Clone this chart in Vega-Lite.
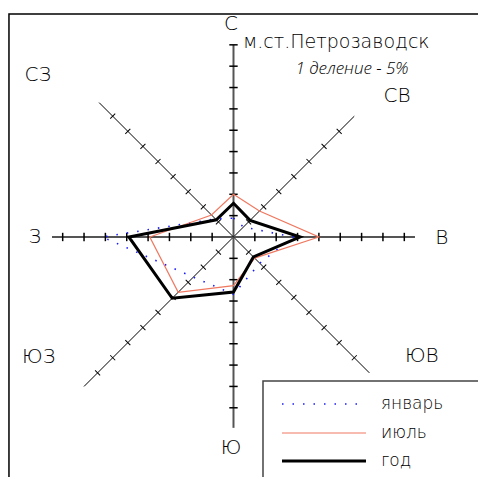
{
  "$schema": "https://vega.github.io/schema/vega-lite/v6.json",
  "width": 478,
  "height": 477,
  "autosize": "none",
  "padding": 0,
  "background": "white",
  "config": {"view": {"stroke": null}, "text": {"font": "DejaVu Sans", "fontWeight": 200, "color": "black"}},
  "datasets": {
    "rose": [
      {"series": "январь", "dir": "С", "i": 0, "value": 4.4},
      {"series": "январь", "dir": "СВ", "i": 1, "value": 3.3},
      {"series": "январь", "dir": "В", "i": 2, "value": 14.0},
      {"series": "январь", "dir": "ЮВ", "i": 3, "value": 8.7},
      {"series": "январь", "dir": "Ю", "i": 4, "value": 13.4},
      {"series": "январь", "dir": "ЮЗ", "i": 5, "value": 13.3},
      {"series": "январь", "dir": "З", "i": 6, "value": 30.7},
      {"series": "январь", "dir": "СЗ", "i": 7, "value": 6.0},
      {"series": "июль", "dir": "С", "i": 0, "value": 10.0},
      {"series": "июль", "dir": "СВ", "i": 1, "value": 8.6},
      {"series": "июль", "dir": "В", "i": 2, "value": 20.0},
      {"series": "июль", "dir": "ЮВ", "i": 3, "value": 7.0},
      {"series": "июль", "dir": "Ю", "i": 4, "value": 11.4},
      {"series": "июль", "dir": "ЮЗ", "i": 5, "value": 18.3},
      {"series": "июль", "dir": "З", "i": 6, "value": 19.6},
      {"series": "июль", "dir": "СЗ", "i": 7, "value": 7.3},
      {"series": "год", "dir": "С", "i": 0, "value": 7.9},
      {"series": "год", "dir": "СВ", "i": 1, "value": 5.5},
      {"series": "год", "dir": "В", "i": 2, "value": 15.6},
      {"series": "год", "dir": "ЮВ", "i": 3, "value": 6.6},
      {"series": "год", "dir": "Ю", "i": 4, "value": 12.9},
      {"series": "год", "dir": "ЮЗ", "i": 5, "value": 20.3},
      {"series": "год", "dir": "З", "i": 6, "value": 24.5},
      {"series": "год", "dir": "СЗ", "i": 7, "value": 5.7}
    ],
    "spokes": [
      {"dir": "С", "i": 0, "len": 45, "ticks": [1, 2, 3, 4, 5, 6, 7, 8, 9]},
      {"dir": "СВ", "i": 1, "len": 40, "ticks": [1, 2, 3, 4, 5, 6, 7]},
      {"dir": "В", "i": 2, "len": 42.5, "ticks": [1, 2, 3, 4, 5, 6, 7, 8]},
      {"dir": "ЮВ", "i": 3, "len": 45, "ticks": [1, 2, 3, 4, 5, 6, 7, 8]},
      {"dir": "Ю", "i": 4, "len": 44.7, "ticks": [1, 2, 3, 4, 5, 6, 7, 8]},
      {"dir": "ЮЗ", "i": 5, "len": 49.5, "ticks": [1, 2, 3, 4, 5, 6, 7, 8, 9]},
      {"dir": "З", "i": 6, "len": 42.5, "ticks": [1, 2, 3, 4, 5, 6, 7, 8]},
      {"dir": "СЗ", "i": 7, "len": 44.5, "ticks": [1, 2, 3, 4, 5, 6, 7, 8]}
    ]
  },
  "layer": [
    {
      "data": {"values": [{}]},
      "mark": {"type": "rect", "fill": null, "stroke": "black", "strokeWidth": 1.5},
      "encoding": {
        "x": {"datum": -52.58, "type": "quantitative", "scale": {"domain": [-54.68, 57.26], "nice": false, "zero": false}, "axis": null},
        "x2": {"datum": 70},
        "y": {"datum": 52.22, "type": "quantitative", "scale": {"domain": [-56.21, 55.5], "nice": false, "zero": false}, "axis": null},
        "y2": {"datum": -70}
      }
    },
    {
      "data": {"name": "spokes"},
      "transform": [
        {"calculate": "0", "as": "x0"},
        {"calculate": "0", "as": "y0"},
        {"calculate": "datum.len*sin(datum.i*PI/4)", "as": "x1"},
        {"calculate": "datum.len*cos(datum.i*PI/4)", "as": "y1"}
      ],
      "mark": {"type": "rule", "color": "black"},
      "encoding": {
        "x": {"field": "x0", "type": "quantitative"},
        "y": {"field": "y0", "type": "quantitative"},
        "x2": {"field": "x1"},
        "y2": {"field": "y1"},
        "strokeWidth": {"condition": {"test": "datum.i % 2 == 0", "value": 2}, "value": 1},
        "color": {"condition": {"test": "datum.i % 2 == 0", "value": "#555555"}, "value": "black"}
      }
    },
    {
      "data": {"name": "spokes"},
      "transform": [
        {"flatten": ["ticks"], "as": ["k"]},
        {"calculate": "datum.k*5*sin(datum.i*PI/4)", "as": "tx"},
        {"calculate": "datum.k*5*cos(datum.i*PI/4)", "as": "ty"},
        {"calculate": "datum.i*45", "as": "ang"}
      ],
      "mark": {"type": "point", "shape": "M-1,0L1,0", "filled": false, "stroke": "black", "opacity": 1},
      "encoding": {
        "x": {"field": "tx", "type": "quantitative"},
        "y": {"field": "ty", "type": "quantitative"},
        "angle": {"field": "ang", "type": "quantitative", "scale": null},
        "size": {"condition": {"test": "datum.i % 2 == 0", "value": 70}, "value": 50},
        "strokeWidth": {"condition": {"test": "datum.i % 2 == 0", "value": 1.5}, "value": 1}
      }
    },
    {
      "data": {"name": "rose"},
      "transform": [
        {"filter": "datum.series == 'январь'"},
        {"calculate": "datum.value*sin(datum.i*PI/4)", "as": "x"},
        {"calculate": "datum.value*cos(datum.i*PI/4)", "as": "y"}
      ],
      "mark": {"type": "line", "interpolate": "linear-closed", "stroke": "#1a1aff", "strokeWidth": 1.6, "strokeDash": [1.5, 9]},
      "encoding": {
        "x": {"field": "x", "type": "quantitative"},
        "y": {"field": "y", "type": "quantitative"},
        "order": {"field": "i", "type": "quantitative"}
      }
    },
    {
      "data": {"name": "rose"},
      "transform": [
        {"filter": "datum.series == 'июль'"},
        {"calculate": "datum.value*sin(datum.i*PI/4)", "as": "x"},
        {"calculate": "datum.value*cos(datum.i*PI/4)", "as": "y"}
      ],
      "mark": {"type": "line", "interpolate": "linear-closed", "stroke": "#f07860", "strokeWidth": 1.2},
      "encoding": {
        "x": {"field": "x", "type": "quantitative"},
        "y": {"field": "y", "type": "quantitative"},
        "order": {"field": "i", "type": "quantitative"}
      }
    },
    {
      "data": {"name": "rose"},
      "transform": [
        {"filter": "datum.series == 'год'"},
        {"calculate": "datum.value*sin(datum.i*PI/4)", "as": "x"},
        {"calculate": "datum.value*cos(datum.i*PI/4)", "as": "y"}
      ],
      "mark": {"type": "line", "interpolate": "linear-closed", "stroke": "black", "strokeWidth": 3},
      "encoding": {
        "x": {"field": "x", "type": "quantitative"},
        "y": {"field": "y", "type": "quantitative"},
        "order": {"field": "i", "type": "quantitative"}
      }
    },
    {
      "data": {"values": [{}]},
      "mark": {"type": "rect", "fill": null, "stroke": "#444444", "strokeWidth": 1.5},
      "encoding": {
        "x": {"datum": 6.91, "type": "quantitative"},
        "x2": {"datum": 70},
        "y": {"datum": -33.72, "type": "quantitative"},
        "y2": {"datum": -70}
      }
    },
    {"data": {"values": [{}]}, "mark": {"type": "rule", "stroke": "#1a1aff", "strokeWidth": 1.6, "strokeDash": [1.5, 9]}, "encoding": {"x": {"datum": 11.36, "type": "quantitative"}, "x2": {"datum": 31.03}, "y": {"datum": -39.11, "type": "quantitative"}}},
    {"data": {"values": [{}]}, "mark": {"type": "rule", "stroke": "#f07860", "strokeWidth": 1.2}, "encoding": {"x": {"datum": 11.36, "type": "quantitative"}, "x2": {"datum": 31.03}, "y": {"datum": -45.9, "type": "quantitative"}}},
    {"data": {"values": [{}]}, "mark": {"type": "rule", "stroke": "black", "strokeWidth": 3}, "encoding": {"x": {"datum": 11.36, "type": "quantitative"}, "x2": {"datum": 31.03}, "y": {"datum": -52.46, "type": "quantitative"}}},
    {"data": {"values": [{}]}, "mark": {"type": "text", "text": "январь", "fontSize": 17, "align": "left", "baseline": "middle"}, "encoding": {"x": {"datum": 34.54, "type": "quantitative"}, "y": {"datum": -39.11, "type": "quantitative"}}},
    {"data": {"values": [{}]}, "mark": {"type": "text", "text": "июль", "fontSize": 17, "align": "left", "baseline": "middle"}, "encoding": {"x": {"datum": 34.54, "type": "quantitative"}, "y": {"datum": -45.9, "type": "quantitative"}}},
    {"data": {"values": [{}]}, "mark": {"type": "text", "text": "год", "fontSize": 17, "align": "left", "baseline": "middle"}, "encoding": {"x": {"datum": 34.54, "type": "quantitative"}, "y": {"datum": -52.46, "type": "quantitative"}}},
    {"data": {"values": [{}]}, "mark": {"type": "text", "text": "С", "fontSize": 20, "align": "center", "baseline": "middle"}, "encoding": {"x": {"datum": -0.59, "type": "quantitative"}, "y": {"datum": 49.9, "type": "quantitative"}}},
    {"data": {"values": [{}]}, "mark": {"type": "text", "text": "СВ", "fontSize": 20, "align": "center", "baseline": "middle"}, "encoding": {"x": {"datum": 38.3, "type": "quantitative"}, "y": {"datum": 33.0, "type": "quantitative"}}},
    {"data": {"values": [{}]}, "mark": {"type": "text", "text": "В", "fontSize": 20, "align": "center", "baseline": "middle"}, "encoding": {"x": {"datum": 48.8, "type": "quantitative"}, "y": {"datum": -0.23, "type": "quantitative"}}},
    {"data": {"values": [{}]}, "mark": {"type": "text", "text": "ЮВ", "fontSize": 20, "align": "center", "baseline": "middle"}, "encoding": {"x": {"datum": 44.1, "type": "quantitative"}, "y": {"datum": -27.9, "type": "quantitative"}}},
    {"data": {"values": [{}]}, "mark": {"type": "text", "text": "Ю", "fontSize": 20, "align": "center", "baseline": "middle"}, "encoding": {"x": {"datum": -0.59, "type": "quantitative"}, "y": {"datum": -49.4, "type": "quantitative"}}},
    {"data": {"values": [{}]}, "mark": {"type": "text", "text": "ЮЗ", "fontSize": 20, "align": "center", "baseline": "middle"}, "encoding": {"x": {"datum": -45.6, "type": "quantitative"}, "y": {"datum": -28.1, "type": "quantitative"}}},
    {"data": {"values": [{}]}, "mark": {"type": "text", "text": "З", "fontSize": 20, "align": "center", "baseline": "middle"}, "encoding": {"x": {"datum": -46.5, "type": "quantitative"}, "y": {"datum": 0, "type": "quantitative"}}},
    {"data": {"values": [{}]}, "mark": {"type": "text", "text": "СЗ", "fontSize": 20, "align": "center", "baseline": "middle"}, "encoding": {"x": {"datum": -45.8, "type": "quantitative"}, "y": {"datum": 37.9, "type": "quantitative"}}},
    {"data": {"values": [{}]}, "mark": {"type": "text", "text": "м.ст.Петрозаводск", "fontSize": 19, "align": "left", "baseline": "alphabetic"}, "encoding": {"x": {"datum": 2.22, "type": "quantitative"}, "y": {"datum": 44.26, "type": "quantitative"}}},
    {"data": {"values": [{}]}, "mark": {"type": "text", "text": "1 деление - 5%", "font": "Open Sans", "fontWeight": 300, "fontSize": 17, "fontStyle": "italic", "align": "center", "baseline": "alphabetic"}, "encoding": {"x": {"datum": 27.75, "type": "quantitative"}, "y": {"datum": 38.17, "type": "quantitative"}}}
  ]
}
